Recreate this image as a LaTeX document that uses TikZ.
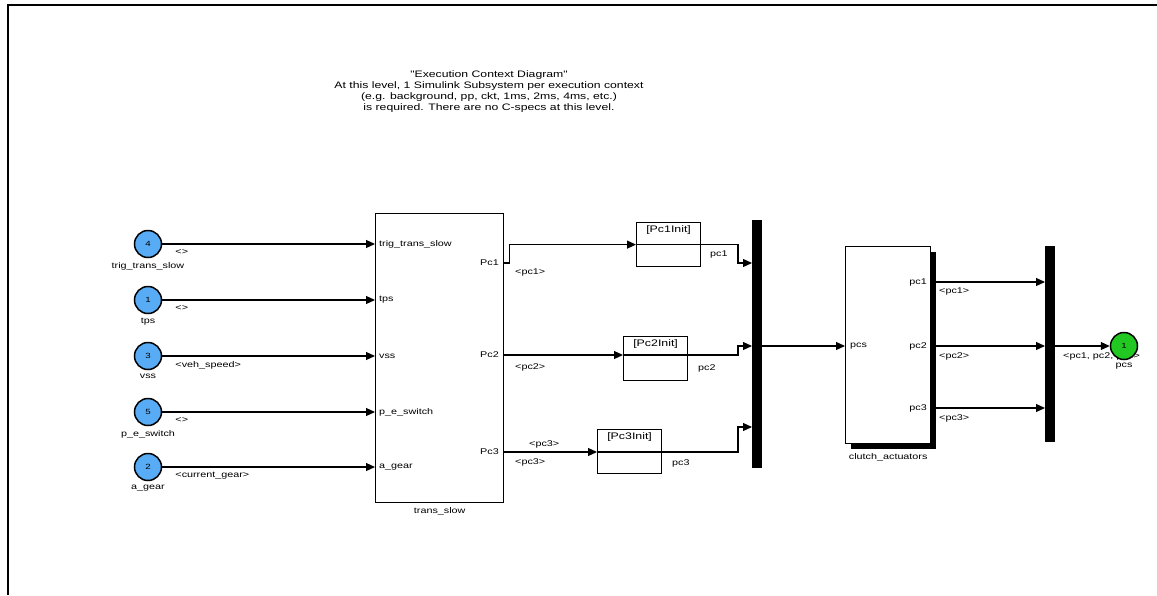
\documentclass[tikz,border=0pt]{standalone}
\usepackage{fontspec}
\usepackage{tikz}
\usetikzlibrary{arrows.meta,positioning,shadows,calc}
\newfontfamily\slfont{Liberation Sans}[FakeStretch=1.3]
\definecolor{inblue}{RGB}{88,172,245}
\definecolor{outgreen}{RGB}{34,200,34}

\begin{document}
\begin{tikzpicture}[x=1pt,y=-1pt,
  lab/.style={font=\slfont\fontsize{8.3}{9}\selectfont, inner sep=1pt},
  inport/.style={circle, draw, line width=1.5pt, fill=inblue, minimum size=27pt, inner sep=0pt, font=\slfont\fontsize{7.5}{8}\selectfont},
  outport/.style={inport, fill=outgreen},
  blk/.style={draw, line width=1.4pt, fill=white, inner sep=0pt},
  initblk/.style={draw, line width=1.2pt, fill=white, minimum width=64pt, minimum height=44pt, anchor=north west, inner sep=0pt},
  bus/.style={fill=black, inner sep=0pt, minimum width=10pt, anchor=north west},
  sig/.style={line width=1.2pt, -{Triangle[length=9pt,width=8pt]}},
  wire/.style={line width=1.2pt}
]
\useasboundingbox (0,0) rectangle (1157,595);
\draw[line width=2.2pt] (8,595) -- (8,5) -- (1157,5);

% title text
\node[font=\slfont\fontsize{9.4}{11}\selectfont, align=center] (title) at (489,92)
  {"Execution Context Diagram"\\
   At this level, 1 Simulink Subsystem per execution context\\
   (e.g. background, pp, ckt, 1ms, 2ms, 4ms, etc.)\\
   is required. There are no C-specs at this level.};

% trans_slow subsystem
\node[blk, minimum width=128pt, minimum height=289pt, anchor=north west] (ts) at (375,213) {};
\node[lab, below=3pt of ts] {trans\_slow};

\foreach \n/\y/\name/\sig in {4/244/trig\_trans\_slow/{<>}, 1/300/tps/{<>}, 3/356/vss/{<veh\_speed>}, 5/412/p\_e\_switch/{<>}, 2/467/a\_gear/{<current\_gear>}} {
  \node[inport] (in\n) at (148,\y) {\n};
  \node[lab, below=3pt of in\n] {\name};
  \node[lab, anchor=west] (tsin\n) at (378,\y) {\name};
  \draw[sig] (in\n) -- (ts.west |- in\n);
  \node[lab, anchor=north west] at ([shift={(12,4)}]in\n.east) {\sig};
}

\node[lab, anchor=east] (tsout1) at (500,263) {Pc1};
\node[lab, anchor=east] (tsout2) at (500,355) {Pc2};
\node[lab, anchor=east] (tsout3) at (500,452) {Pc3};

% init blocks
\node[initblk] (init1) at (636,222) {};
\node[initblk] (init2) at (623,336) {};
\node[initblk] (init3) at (597,429) {};
\foreach \k in {1,2,3} {
  \node[lab, font=\slfont\fontsize{9.5}{10}\selectfont, below=2pt of init\k.north] {[Pc\k Init]};
}

% first bus
\node[bus, minimum height=248pt] (bus1) at (752,220) {};
\coordinate (b1p1) at (752,263);
\coordinate (b1p2) at (752,346);
\coordinate (b1p3) at (752,427);
\coordinate (b1out) at (762,346);

\draw[sig] (ts.east |- tsout1) -- ++(5,0) |- (init1.west);
\draw[wire] (init1.west) -- (init1.east);
\draw[sig] (init1.east) -| ([xshift=-14pt]b1p1) -- (b1p1);

\draw[sig] (ts.east |- tsout2) -- (init2.west |- tsout2);
\draw[wire] (init2.west |- tsout2) -- (init2.east |- tsout2);
\draw[sig] (init2.east |- tsout2) -| ([xshift=-14pt]b1p2) -- (b1p2);

\draw[sig] (ts.east |- tsout3) -- (init3.west |- tsout3);
\draw[wire] (init3.west |- tsout3) -- (init3.east |- tsout3);
\draw[sig] (init3.east |- tsout3) -| ([xshift=-14pt]b1p3) -- (b1p3);

\node[lab, anchor=west] at (514,272) {<pc1>};
\node[lab, anchor=west] at (514,367) {<pc2>};
\node[lab, anchor=west] at (514,462) {<pc3>};
\node[lab, anchor=west] at (528,444) {<pc3>};
\node[lab, anchor=west] at (709,255) {pc1};
\node[lab, anchor=west] at (697,368) {pc2};
\node[lab, anchor=west] at (671,463) {pc3};

% clutch_actuators subsystem
\node[blk, minimum width=85pt, minimum height=197pt, anchor=north west,
  drop shadow={shadow xshift=5pt, shadow yshift=-5pt, fill=black, opacity=1}] (ca) at (845,246) {};
\node[lab, below=8pt of ca] {clutch\_actuators};
\draw[sig] (b1out) -- (ca.west |- b1out);
\node[lab, anchor=west] (cain) at (849,346) {pcs};

% second bus
\node[bus, minimum height=196pt] (bus2) at (1045,246) {};
\coordinate (b2out) at (1055,346);

\foreach \k/\y in {1/282,2/346,3/408} {
  \node[lab, anchor=east] (caout\k) at (928,\y) {pc\k};
  \coordinate (b2p\k) at (1045,\y);
  \draw[sig] (ca.east |- caout\k) -- (b2p\k);
  \node[lab, anchor=west] at (938,\y+10) {<pc\k>};
}

\node[lab, anchor=west] at (1062,356) {<pc1, pc2, pc3>};
\node[outport] (out1) at (1124,346) {1};
\node[lab, below=2pt of out1] {pcs};
\draw[sig] (b2out) -- (out1);
\end{tikzpicture}
\end{document}
